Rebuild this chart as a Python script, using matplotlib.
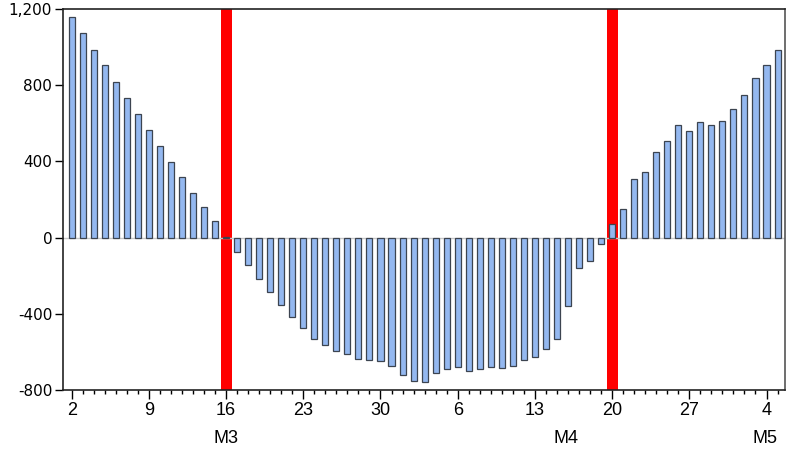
import matplotlib
matplotlib.use("Agg")
import matplotlib.pyplot as plt
import numpy as np

# Daily values, 2 March .. 5 May
march = [1156, 1073, 987, 904, 819, 734, 651, 565, 482, 399, 316, 233, 158, 85, 4,
         -75, -146, -217, -286, -353, -418, -474, -532, -562, -596, -610, -636, -643, -650, -675]
april = [-723, -752, -757, -712, -692, -680, -698, -692, -678, -687, -676, -643, -626, -585,
         -532, -357, -158, -121, -35, 71, 152, 306, 345, 450, 505, 590, 560, 606, 593, 611]
may = [675, 749, 839, 904, 987]
values = march + april + may

tick_pos = [0, 7, 14, 21, 28, 35, 42, 49, 56, 63]
tick_labels = ["2", "9", "16", "23", "30", "6", "13", "20", "27", "4"]
month_labels = ["M3", "M4", "M5"]
month_pos = [14, 44.8, 62.9]
highlight_pos = [14, 49]
y_ticks = [-800, -400, 0, 400, 800, 1200]
y_tick_labels = ["-800", "-400", "0", "400", "800", "1,200"]

fig = plt.figure(figsize=(7.87, 4.49), dpi=100)
ax = fig.add_axes([0.0804, 0.1314, 0.9174, 0.8486])

x = np.arange(len(values))
for h in highlight_pos:
    ax.axvspan(h - 0.5, h + 0.5, color="#FF0000", zorder=1, lw=0)
ax.axhline(0, color="#c8c8c8", lw=1, zorder=1.5)
ax.bar(x, values, width=0.55, color="#94B8F0", edgecolor="#3c4450", linewidth=0.9, zorder=2)

ax.set_xlim(-0.76, 64.7)
ax.set_ylim(-800, 1200)
ax.set_yticks(y_ticks)
ax.set_yticklabels(y_tick_labels, fontsize=11, family="DejaVu Sans")
ax.set_xticks(tick_pos)
ax.set_xticklabels(tick_labels, fontsize=13, family="Liberation Sans")
ax.set_xticks(x, minor=True)
ax.tick_params(axis="x", which="major", length=6.5, width=1, direction="out", pad=2)
ax.tick_params(axis="x", which="minor", length=3, width=1, direction="out")
ax.tick_params(axis="y", length=6, width=1, direction="out", pad=2)

for s in ax.spines.values():
    s.set_linewidth(1.2)
    s.set_color("#222222")
ax.spines["right"].set_color("#555555")

for lab, pos in zip(month_labels, month_pos):
    ax.text(pos, -0.127, lab, transform=ax.get_xaxis_transform(), ha="center", va="center",
            fontsize=13, family="Liberation Sans")

fig.savefig("out.png", dpi=100)
